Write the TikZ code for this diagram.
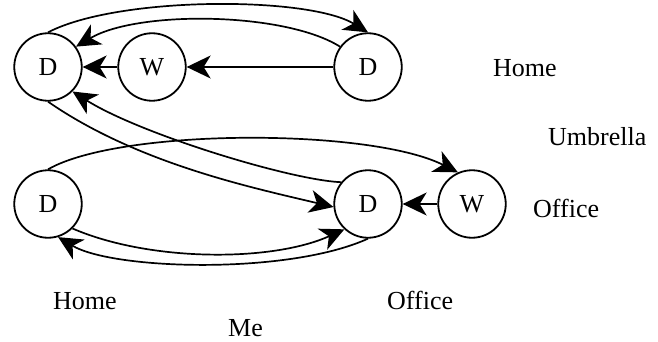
\documentclass[tikz,border=0pt]{standalone}
\usepackage{fontspec}
\setmainfont{Liberation Serif}
\usetikzlibrary{arrows.meta}
\tikzset{
  state/.style={circle,draw,line width=1.8pt,minimum size=67.5pt,inner sep=0pt,font=\fontsize{26}{30}\selectfont},
  lbl/.style={anchor=base west,inner sep=0pt,font=\fontsize{26}{30}\selectfont},
  conn/.style={line width=1.7pt,-{Stealth[length=24pt,width=23pt,inset=7pt]}}
}
\begin{document}
\begin{tikzpicture}[x=1pt,y=-1pt]
\useasboundingbox (0,0) rectangle (658,342);
\node[state] (D1) at (48,67) {D};
\node[state] (W1) at (152,67) {W};
\node[state] (D2) at (368,67) {D};
\node[state] (D3) at (48,204) {D};
\node[state] (D4) at (368,204) {D};
\node[state] (W2) at (472,204) {W};
\node[lbl] (t1) at (493,77) {Home};
\node[lbl] (t2) at (548,145) {Umbrella};
\node[lbl] (t3) at (533,217) {Office};
\node[lbl] (t4) at (53,309) {Home};
\node[lbl] (t5) at (387,309) {Office};
\node[lbl] (t6) at (228,336) {Me};
\draw[conn] (D1.north) .. controls (118,-4) and (308,-4) .. (D2.north);
\draw[conn] (D2.144.5) .. controls (285,12) and (138,10) .. (D1.36);
\draw[conn] (D2) -- (W1);
\draw[conn] (W1) -- (D1);
\draw[conn] (D1.south) .. controls (138,164) and (254,188) .. (D4.185);
\draw[conn] (D4.141) .. controls (290,180) and (140,134) .. (D1.-45);
\draw[conn] (D3.north) .. controls (120,128) and (370,128) .. (W2.114);
\draw[conn] (W2) -- (D4);
\draw[conn] (D3.-45) .. controls (150,262) and (272,262) .. (D4.227);
\draw[conn] (D4.south) .. controls (288,275) and (113,270) .. (D3.287);
\end{tikzpicture}
\end{document}
